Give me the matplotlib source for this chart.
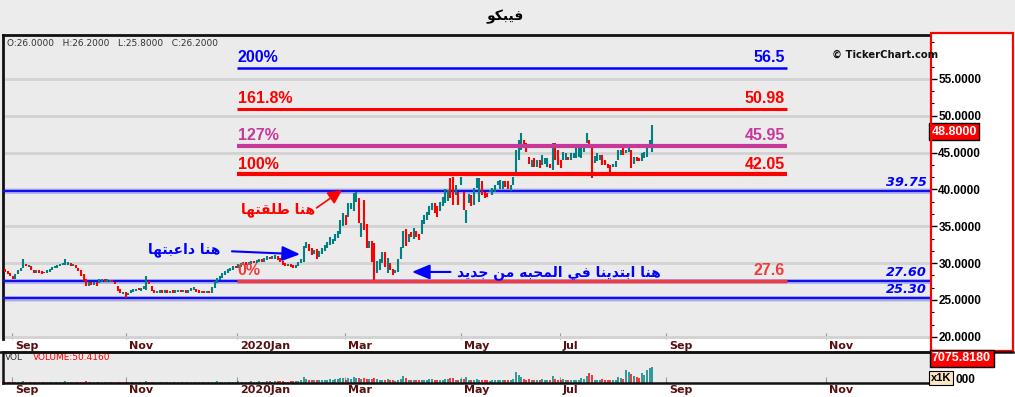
import matplotlib
matplotlib.use('Agg')
import matplotlib.pyplot as plt
import matplotlib.transforms as mtrans
from matplotlib.patches import Rectangle
from matplotlib.lines import Line2D
from matplotlib.ticker import AutoMinorLocator, FormatStrFormatter

W, H = 1015, 397

title = 'فيبكو'
ohlc_text = 'O:26.0000   H:26.2000   L:25.8000   C:26.2000'

# daily candles (open / close), Sep 2019 -> Aug 2020
opens = [
    29.2, 28.9, 28.6, 28.3, 27.8, 28.5, 28.9, 29.3, 29.9, 29.5,
    29.6, 29.0, 28.7, 29.0, 28.9, 28.8, 28.6, 28.8, 29.1, 29.3,
    29.4, 29.6, 29.7, 29.8, 29.8, 30.0, 29.6, 29.8, 29.3, 29.1,
    28.5, 27.9, 26.9, 27.4, 27.0, 27.4, 27.3, 27.5, 27.9, 27.5,
    27.4, 27.7, 27.4, 26.9, 26.5, 25.8, 26.1, 25.7, 25.9, 26.1,
    26.2, 26.6, 26.2, 26.5, 26.3, 27.6, 26.9, 26.4, 25.9, 26.0,
    26.3, 26.0, 26.3, 26.0, 26.3, 26.0, 26.1, 26.3, 26.1, 26.3,
    26.0, 26.2, 26.3, 26.5, 26.3, 26.0, 26.2, 25.9, 26.2, 26.0,
    26.6, 27.3, 27.7, 28.0, 28.4, 28.7, 28.9, 29.1, 29.6, 29.4,
    29.5, 29.7, 30.1, 29.8, 29.9, 30.3, 30.0, 30.1, 30.5, 30.2,
    30.4, 30.8, 30.5, 30.6, 31.0, 30.7, 30.3, 30.0, 29.6, 29.9,
    29.8, 29.4, 29.6, 30.0, 30.2, 32.0, 32.6, 32.0, 31.2, 31.9,
    30.8, 31.3, 31.7, 32.1, 32.5, 32.6, 33.0, 33.4, 34.0, 35.0,
    36.5, 36.3, 37.3, 37.1, 38.3, 38.8, 33.5, 38.6, 35.3, 32.0,
    33.0, 32.7, 28.6, 29.0, 30.0, 31.5, 28.7, 30.0, 29.2, 28.6,
    28.8, 30.5, 32.0, 34.6, 32.9, 34.2, 33.3, 34.3, 33.9, 34.0,
    35.3, 35.9, 36.5, 37.2, 38.2, 37.8, 37.1, 37.8, 38.2, 38.4,
    41.5, 41.7, 39.2, 39.7, 40.6, 39.7, 35.5, 38.1, 39.2, 37.9,
    40.2, 38.3, 41.1, 39.7, 39.5, 39.6, 39.2, 39.7, 40.6, 40.1,
    40.0, 41.1, 41.1, 39.8, 40.6, 42.2, 44.0, 45.4, 46.7, 46.3,
    44.4, 43.0, 44.2, 43.1, 44.0, 43.3, 43.5, 43.1, 43.5, 42.6,
    46.3, 45.4, 44.0, 44.0, 44.0, 44.4, 44.0, 44.2, 44.2, 44.4,
    44.2, 45.1, 46.3, 46.7, 46.0, 43.6, 43.8, 44.0, 44.7, 44.0,
    43.5, 43.3, 43.1, 43.1, 44.0, 44.7, 45.6, 44.9, 45.1, 45.4,
    43.5, 44.4, 44.2, 43.8, 44.2, 44.4, 45.8, 45.1,
]
closes = [
    28.8, 28.5, 28.2, 27.9, 28.5, 29.0, 29.4, 30.6, 29.6, 29.8,
    29.0, 28.7, 29.1, 28.6, 28.5, 28.6, 29.0, 29.2, 29.5, 29.6,
    29.8, 29.9, 30.0, 30.5, 30.1, 29.6, 29.9, 29.3, 28.9, 28.2,
    27.6, 26.9, 27.5, 27.0, 27.5, 26.9, 27.8, 27.9, 27.5, 27.9,
    27.7, 27.4, 27.1, 26.2, 25.9, 26.1, 25.3, 26.0, 26.3, 26.5,
    26.5, 26.3, 26.6, 26.9, 28.3, 27.1, 26.2, 25.9, 26.2, 26.4,
    26.0, 26.3, 26.0, 26.2, 26.0, 26.3, 26.3, 26.1, 26.3, 26.0,
    26.3, 26.6, 26.7, 26.1, 26.0, 26.2, 25.9, 26.2, 25.9, 26.8,
    27.6, 28.0, 28.3, 28.7, 28.9, 29.2, 29.4, 29.6, 29.3, 29.9,
    30.0, 30.2, 29.8, 30.2, 30.3, 30.0, 30.4, 30.6, 30.2, 30.7,
    30.9, 30.5, 31.0, 31.1, 30.4, 30.1, 29.8, 29.6, 29.9, 29.5,
    29.4, 29.8, 30.1, 30.6, 32.3, 32.9, 31.6, 31.1, 31.8, 30.5,
    31.6, 32.0, 32.4, 32.9, 33.5, 33.3, 33.9, 34.4, 35.8, 36.8,
    35.2, 38.1, 38.2, 39.5, 39.7, 35.5, 35.4, 34.5, 32.0, 33.0,
    30.2, 27.7, 30.3, 30.5, 31.5, 29.5, 30.7, 29.0, 28.4, 29.0,
    30.5, 32.2, 34.4, 32.3, 34.0, 33.5, 34.8, 33.5, 33.1, 35.8,
    36.5, 37.0, 37.8, 38.1, 36.8, 36.2, 38.3, 39.0, 40.1, 39.9,
    38.8, 37.9, 40.6, 37.9, 41.7, 37.2, 37.2, 39.4, 37.8, 40.2,
    41.5, 41.5, 39.2, 38.9, 39.0, 39.9, 40.2, 40.6, 41.1, 41.3,
    41.1, 40.3, 40.0, 40.6, 41.7, 45.4, 46.7, 47.6, 45.8, 45.1,
    43.5, 44.0, 43.1, 44.0, 42.9, 44.7, 44.2, 44.2, 42.9, 46.3,
    44.0, 43.3, 42.9, 45.1, 44.9, 44.0, 44.9, 44.9, 45.6, 45.6,
    45.8, 45.6, 47.6, 45.8, 41.6, 44.6, 44.9, 44.7, 43.3, 43.3,
    42.9, 42.4, 43.5, 43.8, 45.4, 45.3, 44.7, 45.4, 45.6, 42.9,
    44.4, 43.8, 43.9, 44.9, 45.1, 45.8, 46.7, 48.8,
]
# volume in thousands
volumes = [
    450, 380, 520, 610, 430, 390, 470, 720, 500, 360,
    410, 380, 350, 420, 390, 330, 460, 380, 410, 350,
    380, 420, 360, 690, 480, 370, 330, 410, 450, 520,
    610, 700, 480, 390, 360, 420, 350, 330, 380, 300,
    340, 310, 380, 520, 610, 430, 580, 390, 360, 330,
    300, 350, 320, 360, 900, 620, 540, 410, 330, 300,
    280, 310, 260, 300, 270, 320, 290, 260, 300, 280,
    330, 390, 360, 300, 280, 260, 300, 290, 310, 480,
    620, 700, 560, 520, 600, 580, 540, 620, 650, 700,
    580, 620, 540, 600, 680, 560, 600, 720, 640, 600,
    680, 720, 650, 700, 820, 760, 690, 640, 600, 660,
    700, 740, 900, 1100, 2400, 1800, 1500, 1300, 1100, 1200,
    1400, 1100, 1300, 1500, 1700, 1300, 1600, 1900, 2200, 2000,
    1500, 2100, 1800, 2400, 2300, 2000, 1600, 2100, 1900, 1700,
    1600, 2200, 1800, 1400, 1500, 1300, 1600, 1200, 1100, 1000,
    1400, 1800, 2900, 2100, 1500, 1300, 1400, 1200, 1100, 1300,
    1500, 1400, 1600, 1900, 1500, 1300, 1200, 1400, 1700, 1600,
    2200, 2000, 1500, 1400, 1800, 1600, 2400, 1500, 1300, 1400,
    1600, 1500, 1300, 1200, 1100, 1000, 1100, 1200, 1300, 1400,
    1300, 1200, 1100, 1400, 1900, 4900, 3600, 2600, 1800, 1500,
    1600, 1300, 1400, 1200, 1500, 1700, 1300, 1200, 1100, 2900,
    1800, 1500, 1300, 1600, 1400, 1200, 1300, 1100, 1300, 1500,
    2000, 1700, 3200, 4300, 3400, 1500, 1300, 1400, 1600, 1300,
    1200, 1100, 1400, 1300, 2800, 2300, 1800, 5800, 4600, 3900,
    3100, 2400, 2000, 4300, 3300, 5600, 6400, 7076,
]

# month ticks in bar units (future part of axis uses calendar days)
month_pos = [2.7, 46.2, 88.5, 129.8, 174.0, 211.8, 252.3, 313.4]
month_labels = ['Sep', 'Nov', '2020Jan', 'Mar', 'May', 'Jul', 'Sep', 'Nov']

fib_labels = ['200%', '161.8%', '127%', '100%', '0%']
fib_values = [56.5, 50.98, 45.95, 42.05, 27.6]
fib_texts = ['56.5', '50.98', '45.95', '42.05', '27.6']

level_values = [39.75, 27.60, 25.30]
level_texts = ['39.75', '27.60', '25.30']

last_price = 48.8
last_volume = '7075.8180'
vol_text = 'VOLUME:50.4160'

note_fired = 'هنا طلقتها'
note_teased = 'هنا داعبتها'
note_again = 'هنا ابتدينا في المحبه من جديد'

# matplotlib has no arabic shaping -> pick contextual forms by hand
AR_FORMS = {
    'ا': ('\uFE8D', '\uFE8E', None, None),
    'ب': ('\uFE8F', '\uFE90', '\uFE91', '\uFE92'),
    'ت': ('\uFE95', '\uFE96', '\uFE97', '\uFE98'),
    'ج': ('\uFE9D', '\uFE9E', '\uFE9F', '\uFEA0'),
    'ح': ('\uFEA1', '\uFEA2', '\uFEA3', '\uFEA4'),
    'د': ('\uFEA9', '\uFEAA', None, None),
    'ط': ('\uFEC1', '\uFEC2', '\uFEC3', '\uFEC4'),
    'ع': ('\uFEC9', '\uFECA', '\uFECB', '\uFECC'),
    'ف': ('\uFED1', '\uFED2', '\uFED3', '\uFED4'),
    'ق': ('\uFED5', '\uFED6', '\uFED7', '\uFED8'),
    'ك': ('\uFED9', '\uFEDA', '\uFEDB', '\uFEDC'),
    'ل': ('\uFEDD', '\uFEDE', '\uFEDF', '\uFEE0'),
    'م': ('\uFEE1', '\uFEE2', '\uFEE3', '\uFEE4'),
    'ن': ('\uFEE5', '\uFEE6', '\uFEE7', '\uFEE8'),
    'ه': ('\uFEE9', '\uFEEA', '\uFEEB', '\uFEEC'),
    'و': ('\uFEED', '\uFEEE', None, None),
    'ي': ('\uFEF1', '\uFEF2', '\uFEF3', '\uFEF4'),
}


def shape_ar(text):
    out = []
    for i, ch in enumerate(text):
        if ch not in AR_FORMS:
            out.append(ch)
            continue
        prev = text[i - 1] if i > 0 else ''
        nxt = text[i + 1] if i + 1 < len(text) else ''
        join_prev = prev in AR_FORMS and AR_FORMS[prev][2] is not None
        join_next = nxt in AR_FORMS and AR_FORMS[ch][2] is not None
        iso, fin, ini, med = AR_FORMS[ch]
        if join_prev and join_next:
            out.append(med)
        elif join_prev:
            out.append(fin)
        elif join_next:
            out.append(ini)
        else:
            out.append(iso)
    return ''.join(reversed(out))


def fx(px):
    return px / W


def fy(py):
    return 1 - py / H


TEAL = '#008080'
RED = '#ff0000'
BLUE = '#0000ff'
PURPLE = '#c8389a'

fig = plt.figure(figsize=(W / 100, H / 100), dpi=100, facecolor='#ececec')

# white bands behind axes / price scale
for x0, y0, x1, y1 in [(930, 33, 1015, 397), (0, 339, 930, 351), (0, 383, 1015, 397)]:
    fig.add_artist(Rectangle((fx(x0), fy(y1)), fx(x1) - fx(x0), fy(y0) - fy(y1),
                             transform=fig.transFigure, fc='white', ec='none', zorder=-1))

ax = fig.add_axes([fx(3), fy(339), fx(927), (339 - 35) / H])
axv = fig.add_axes([fx(3), fy(383), fx(927), (383 - 352) / H])

idx = list(range(len(closes)))
colors = [TEAL if c >= o else RED for o, c in zip(opens, closes)]

# price panel
ax.set_facecolor('#ebebeb')
ax.set_xlim(-0.76, 353.0)
ax.set_ylim(19.7, 60.96)
ax.set_yticks(range(20, 60, 5))
ax.yaxis.set_minor_locator(AutoMinorLocator(3))
ax.yaxis.set_major_formatter(FormatStrFormatter('%.4f'))
ax.yaxis.tick_right()
ax.grid(axis='y', color='#d2d2d2', lw=2)
ax.set_axisbelow(True)
ax.tick_params(axis='y', which='major', direction='out', length=5, width=1, pad=1,
               labelsize=8.5, labelcolor='black')
ax.tick_params(axis='y', which='minor', direction='out', length=3, width=0.8)
for t in ax.get_yticklabels():
    t.set_fontfamily('Liberation Sans')
    t.set_fontweight('bold')
for s in ['right', 'bottom']:
    ax.spines[s].set_visible(False)
for s in ['top', 'left']:
    ax.spines[s].set_linewidth(2)
    ax.spines[s].set_color('#111111')

ax.vlines(idx, [min(o, c) for o, c in zip(opens, closes)],
          [max(o, c) for o, c in zip(opens, closes)], colors=colors, lw=1.5, zorder=4)

# full width support / resistance lines
for v, txt in zip(level_values, level_texts):
    ax.axhline(v, color='#8c8cff', lw=3.5, alpha=0.6, zorder=2)
    ax.axhline(v, color='#1010ee', lw=1.6, zorder=3)
    ax.annotate(txt, (0.997, v), xycoords=('axes fraction', 'data'), xytext=(0, 1.5),
                textcoords='offset points', ha='right', va='bottom', color=BLUE,
                fontsize=9.3, weight='bold', style='italic', family='DejaVu Sans')

# fibonacci extension levels
fib_colors = [BLUE, RED, PURPLE, RED, '#f03c3c']
fib_widths = [1.8, 2.2, 3.0, 3.0, 2.5]
for lbl, v, txt, col, lw in zip(fib_labels, fib_values, fib_texts, fib_colors, fib_widths):
    ax.hlines(v, 88.5, 298.5, colors=col, lw=lw, zorder=5)
    ax.annotate(lbl, (88.8, v), xytext=(0, 2), textcoords='offset points',
                ha='left', va='bottom', color=col, fontsize=11.5, weight='bold',
                family='Liberation Sans', zorder=6)
    ax.annotate(txt, (297.7, v), xytext=(0, 2), textcoords='offset points',
                ha='right', va='bottom', color=col, fontsize=11.5, weight='bold',
                family='Liberation Sans', zorder=6)

# comments on chart
ar_font = dict(fontsize=10, weight='bold', family='DejaVu Sans', ha='center', va='center', zorder=7)
ax.text(104.2, 37.2, shape_ar(note_fired), color=RED, **ar_font)
ax.text(68.3, 31.8, shape_ar(note_teased), color=BLUE, **ar_font)
ax.text(211.3, 28.7, shape_ar(note_again), color=BLUE, **ar_font)

ax.annotate('', xy=(128.6, 39.9), xytext=(118.9, 37.5),
            arrowprops=dict(arrowstyle='-|>,head_length=0.6,head_width=0.3', color=RED,
                            lw=1.2, mutation_scale=14, shrinkA=0, shrinkB=0), zorder=7)
ax.annotate('', xy=(112.6, 31.2), xytext=(86.6, 31.6),
            arrowprops=dict(arrowstyle='-|>,head_length=0.6,head_width=0.25', color=BLUE,
                            lw=1.5, mutation_scale=18, shrinkA=0, shrinkB=0), zorder=7)
ax.annotate('', xy=(155.3, 28.8), xytext=(170.0, 28.8),
            arrowprops=dict(arrowstyle='-|>,head_length=0.6,head_width=0.25', color=BLUE,
                            lw=1.5, mutation_scale=18, shrinkA=0, shrinkB=0), zorder=7)

# last price box
ax.annotate(f'{last_price:.4f}', (1.0, last_price), xycoords=('axes fraction', 'data'),
            xytext=(1, -5), textcoords='offset points', ha='left', va='center',
            color='white', fontsize=9, weight='bold', family='Liberation Sans',
            bbox=dict(boxstyle='square,pad=0.2', fc=RED, ec='black', lw=1), annotation_clip=False)

# volume panel
axv.set_facecolor('#ebebeb')
axv.set_xlim(-0.76, 353.0)
axv.set_ylim(0, 13500)
axv.vlines(idx, 0, volumes, colors=colors, lw=1.1)
axv.set_yticks([])
axv.spines['right'].set_visible(False)
for s in ['top', 'bottom', 'left']:
    axv.spines[s].set_linewidth(1.8)
    axv.spines[s].set_color('#111111')

# month axis labels, left aligned to the tick
shift = mtrans.ScaledTranslation(2 / 72, 0, fig.dpi_scale_trans)
for a in [ax, axv]:
    a.set_xticks(month_pos)
    a.set_xticklabels(month_labels)
    a.tick_params(axis='x', direction='in', length=4, color='#999999', pad=1.5,
                  labelsize=8, labelcolor='#5a1010')
    for t in a.get_xticklabels():
        t.set_ha('left')
        t.set_fontweight('bold')
        t.set_transform(t.get_transform() + shift)

# frame of the price scale
fig.add_artist(Rectangle((fx(931), fy(351)), fx(1013) - fx(931), fy(33) - fy(351),
                         transform=fig.transFigure, fill=False, ec=RED, lw=1.6, zorder=5))
fig.add_artist(Line2D([0, fx(1013)], [fy(351.5), fy(351.5)], transform=fig.transFigure,
                      color='#111111', lw=1.8, zorder=6))

# texts outside the axes
fig.text(0.4975, fy(17), shape_ar(title), ha='center', va='center', fontsize=10,
         weight='bold', family='DejaVu Sans')
fig.text(fx(7), fy(43), ohlc_text, ha='left', va='center', fontsize=6.5, color='#333333')
fig.text(fx(832), fy(55), '© TickerChart.com', ha='left', va='center', fontsize=7.2,
         weight='bold', color='#111111', zorder=8)
fig.text(fx(5), fy(357), 'VOL', ha='left', va='center', fontsize=6.5, color='#333333')
fig.text(fx(33), fy(357), vol_text, ha='left', va='center', fontsize=6.5, color=RED)
fig.text(fx(932), fy(358), last_volume, ha='left', va='center', fontsize=9,
         weight='bold', color='white', family='Liberation Sans', zorder=8,
         bbox=dict(boxstyle='square,pad=0.2', fc=RED, ec='black', lw=1))
fig.text(fx(956), fy(380), '000', ha='left', va='center', fontsize=8.5,
         weight='bold', color='black', family='Liberation Sans', zorder=7)
fig.text(fx(931), fy(378), 'x1K', ha='left', va='center', fontsize=8,
         weight='bold', color='black', family='Liberation Sans', zorder=8,
         bbox=dict(boxstyle='square,pad=0.15', fc='#fbe6c2', ec='black', lw=0.8))

fig.savefig('out.png', dpi=100, facecolor=fig.get_facecolor())
